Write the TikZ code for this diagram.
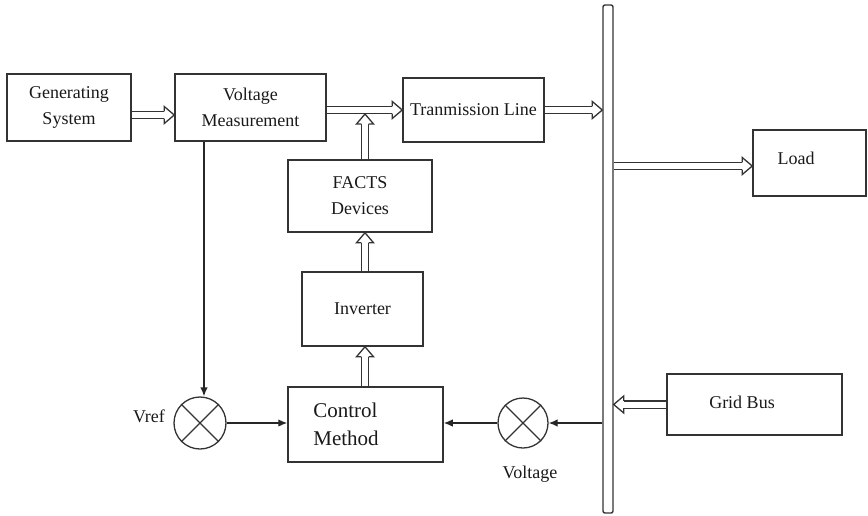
\documentclass[tikz,border=0pt]{standalone}
\usepackage{fontspec}
\setmainfont{Liberation Serif}
\usetikzlibrary{arrows.meta,decorations.markings}

\begin{document}
\begin{tikzpicture}[x=1pt,y=-1pt,
  every node/.style={text=black!90},
  box/.style={draw=black!80, line width=1.5pt, rectangle, inner sep=0pt,
    font=\fontsize{18}{26}\selectfont, align=center},
  txt/.style={inner sep=0pt, font=\fontsize{18}{26}\selectfont, align=center},
  sumnode/.style={draw=black!80, circle, minimum size=52pt, inner sep=0pt, line width=1.3pt},
  bigarrow/.style={draw=black!80, double, double distance=6pt, line width=1.3pt, shorten >=10pt,
    postaction={decorate, decoration={markings, mark=at position 1 with {
      \draw[draw=black!80, line width=1.3pt, fill=white, line join=miter, shorten >=0pt]
        (-10pt,3.65pt) -- (-10pt,8.5pt) -- (0pt,0pt) -- (-10pt,-8.5pt) -- (-10pt,-3.65pt);}}}},
  sig/.style={draw=black!85, line width=1.3pt, -{Latex[length=9pt,width=7.5pt]}}
]
\useasboundingbox (0,0) rectangle (868,515);

% blocks
\node[box, minimum width=124pt, minimum height=67pt] (gen) at (69,107.5) {Generating\\System};
\node[box, minimum width=151pt, minimum height=67pt] (vm) at (250.5,107.5) {Voltage\\Measurement};
\node[box, minimum width=141pt, minimum height=64pt] (tl) at (473.5,110) {Tranmission Line};
\node[box, minimum width=144pt, minimum height=72pt] (facts) at (360,196) {FACTS\\Devices};
\node[box, minimum width=121pt, minimum height=74pt] (inv) at (362.5,309) {Inverter};
\node[box, minimum width=155pt, minimum height=75pt] (ctrl) at (365.5,424.5) {};
\node[txt, align=left, font=\fontsize{21}{28}\selectfont] (ctrltxt) at (346,424) {Control\\Method};
\node[box, minimum width=113pt, minimum height=66pt] (load) at (809.5,163) {};
\node[txt] (loadtxt) at (796,158) {Load};
\node[box, minimum width=175pt, minimum height=61pt] (grid) at (754.5,404.5) {};
\node[txt] (gridtxt) at (742,402) {Grid Bus};

% bus bar
\node[draw=black!80, line width=1.4pt, rectangle, rounded corners=2pt, inner sep=0pt,
  minimum width=10pt, minimum height=508pt] (bus) at (608,259) {};

% summing junctions
\node[sumnode] (vref) at (200,423) {};
\draw[draw=black!80, line width=1.1pt] (vref.north west) -- (vref.south east) (vref.north east) -- (vref.south west);
\node[sumnode, minimum size=50pt] (vsum) at (523,423) {};
\draw[draw=black!80, line width=1.1pt] (vsum.north west) -- (vsum.south east) (vsum.north east) -- (vsum.south west);
\node[txt] (vreflbl) at (149,416) {Vref};
\node[txt] (vlbl) at (530,474) {Voltage};

% power flow
\coordinate (j) at (365,114);
\coordinate (m) at (204,0);
\path[bigarrow] (gen.east |- 0,115) -- (vm.west |- 0,115);
\path[bigarrow] (vm.east |- 0,110) -- (tl.west);
\path[bigarrow] (tl.east) -- (tl.east -| bus.west);
\path[bigarrow] (bus.east |- 0,166) -- (load.west |- 0,166);
\path[bigarrow] (grid.west) -- (grid.west -| bus.east);
\path[bigarrow] (ctrl.north -| j) -- (inv.south -| j);
\path[bigarrow] (inv.north -| j) -- (facts.south -| j);
\path[bigarrow] (facts.north -| j) -- (j);

% control signals
\path[sig] (m |- vm.south) -- (m |- vref.north);
\path[sig] (vref.east) -- (vref.east -| ctrl.west);
\path[sig] (vsum.east -| bus.west) -- (vsum.east);
\path[sig] (vsum.west) -- (vsum.west -| ctrl.east);
\end{tikzpicture}
\end{document}
